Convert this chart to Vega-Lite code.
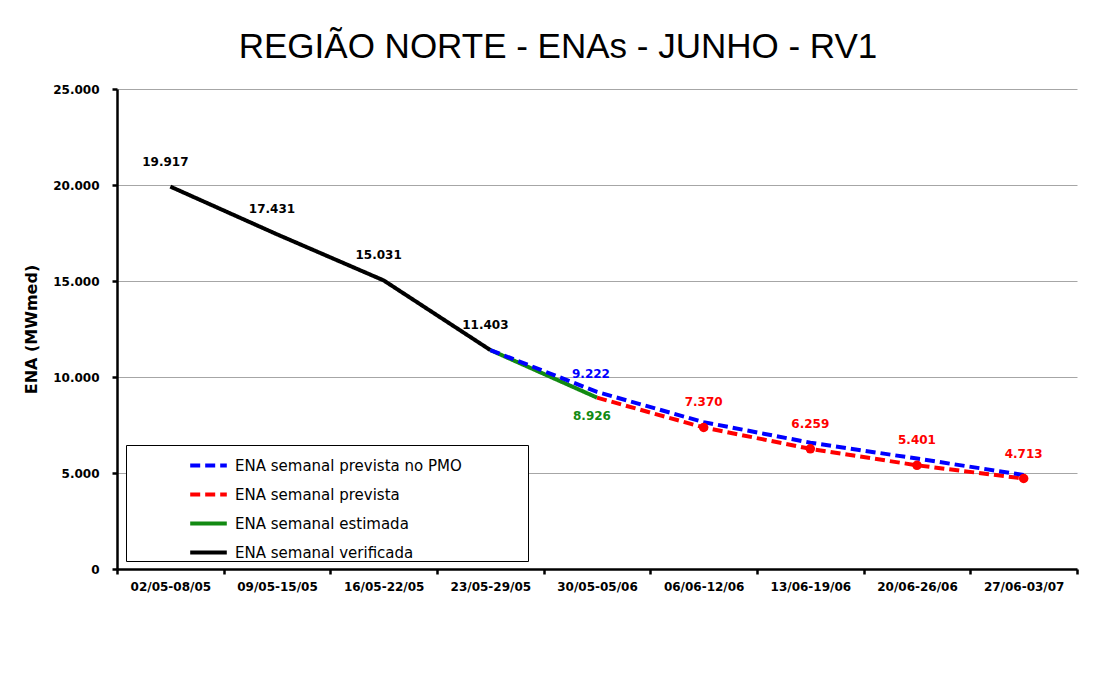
{
  "$schema": "https://vega.github.io/schema/vega-lite/v6.json",
  "width": 960,
  "height": 480,
  "autosize": {"type": "none"},
  "padding": {"left": 117, "top": 89, "right": 22, "bottom": 114},
  "background": "white",
  "title": {
    "text": "REGIÃO NORTE - ENAs - JUNHO - RV1",
    "font": "Liberation Sans, Arial, sans-serif",
    "fontSize": 35,
    "fontWeight": "normal",
    "color": "#000000",
    "anchor": "middle",
    "dx": -39,
    "offset": 18
  },
  "config": {
    "locale": {
      "number": {"decimal": ",", "thousands": ".", "grouping": [3], "currency": ["R$", ""]}
    },
    "view": {"stroke": null},
    "axis": {
      "labelFont": "DejaVu Sans, sans-serif",
      "labelFontWeight": "bold",
      "labelFontSize": 12,
      "labelColor": "#000000",
      "domainColor": "#000000",
      "domainWidth": 2.5,
      "tickColor": "#000000",
      "tickWidth": 2.5,
      "tickSize": 5,
      "titleFont": "DejaVu Sans, sans-serif",
      "titleFontWeight": "bold",
      "titleFontSize": 16,
      "titleColor": "#000000"
    }
  },
  "data": {
    "values": [
      {"semana": "02/05-08/05", "serie": "ENA semanal verificada", "valor": 19917},
      {"semana": "09/05-15/05", "serie": "ENA semanal verificada", "valor": 17431},
      {"semana": "16/05-22/05", "serie": "ENA semanal verificada", "valor": 15031},
      {"semana": "23/05-29/05", "serie": "ENA semanal verificada", "valor": 11403},
      {"semana": "23/05-29/05", "serie": "ENA semanal estimada", "valor": 11403},
      {"semana": "30/05-05/06", "serie": "ENA semanal estimada", "valor": 8926},
      {"semana": "30/05-05/06", "serie": "ENA semanal prevista", "valor": 8926},
      {"semana": "06/06-12/06", "serie": "ENA semanal prevista", "valor": 7370},
      {"semana": "13/06-19/06", "serie": "ENA semanal prevista", "valor": 6259},
      {"semana": "20/06-26/06", "serie": "ENA semanal prevista", "valor": 5401},
      {"semana": "27/06-03/07", "serie": "ENA semanal prevista", "valor": 4713},
      {"semana": "23/05-29/05", "serie": "ENA semanal prevista no PMO", "valor": 11403},
      {"semana": "30/05-05/06", "serie": "ENA semanal prevista no PMO", "valor": 9222},
      {"semana": "06/06-12/06", "serie": "ENA semanal prevista no PMO", "valor": 7650},
      {"semana": "13/06-19/06", "serie": "ENA semanal prevista no PMO", "valor": 6580},
      {"semana": "20/06-26/06", "serie": "ENA semanal prevista no PMO", "valor": 5750},
      {"semana": "27/06-03/07", "serie": "ENA semanal prevista no PMO", "valor": 4900}
    ]
  },
  "encoding": {
    "x": {
      "field": "semana",
      "type": "nominal",
      "bandPosition": 0.5,
      "sort": ["02/05-08/05", "09/05-15/05", "16/05-22/05", "23/05-29/05", "30/05-05/06", "06/06-12/06", "13/06-19/06", "20/06-26/06", "27/06-03/07"],
      "scale": {"type": "band", "paddingInner": 0, "paddingOuter": 0},
      "axis": {"title": null, "labelAngle": 0, "tickBand": "extent", "labelPadding": 7, "grid": false}
    },
    "y": {
      "field": "valor",
      "type": "quantitative",
      "scale": {"domain": [0, 25000], "nice": false},
      "axis": {
        "title": "ENA (MWmed)",
        "values": [0, 5000, 10000, 15000, 20000, 25000],
        "format": ",d",
        "grid": true,
        "gridColor": "#a6a6a6",
        "gridWidth": 1,
        "labelPadding": 13,
        "titlePadding": 13
      }
    }
  },
  "layer": [
    {
      "mark": {"type": "line", "strokeWidth": 4},
      "encoding": {
        "color": {
          "field": "serie",
          "type": "nominal",
          "scale": {
            "domain": ["ENA semanal prevista no PMO", "ENA semanal prevista", "ENA semanal estimada", "ENA semanal verificada"],
            "range": ["#0000ff", "#ff0000", "#128a12", "#000000"]
          },
          "legend": {
            "title": " ",
            "titleOrient": "right",
            "titlePadding": 66,
            "orient": "none",
            "legendX": 9,
            "legendY": 356,
            "direction": "vertical",
            "fillColor": "#ffffff",
            "strokeColor": "#000000",
            "padding": 0,
            "symbolType": "stroke",
            "symbolSize": 1340,
            "symbolStrokeWidth": 4,
            "symbolOffset": 62,
            "labelFont": "DejaVu Sans, sans-serif",
            "labelFontSize": 15,
            "labelColor": "#000000",
            "labelOffset": 6,
            "rowPadding": 0,
            "labelLimit": 400
          }
        },
        "strokeDash": {
          "field": "serie",
          "type": "nominal",
          "scale": {
            "domain": ["ENA semanal prevista no PMO", "ENA semanal prevista", "ENA semanal estimada", "ENA semanal verificada"],
            "range": [[10, 5], [10, 5], [1, 0], [1, 0]]
          },
          "legend": null
        },
        "order": {"field": "serie", "type": "nominal"}
      }
    },
    {
      "transform": [{"filter": "datum.serie == 'ENA semanal prevista' && datum.semana != '30/05-05/06'"}],
      "mark": {"type": "circle", "size": 90, "color": "#ff0000", "opacity": 1}
    },
    {
      "transform": [{"filter": "datum.serie == 'ENA semanal verificada'"}],
      "mark": {"type": "text", "font": "DejaVu Sans, sans-serif", "fontWeight": "bold", "fontSize": 12, "color": "#000000", "dy": -25, "dx": -5},
      "encoding": {"text": {"field": "valor", "type": "quantitative", "format": ",d"}}
    },
    {
      "transform": [{"filter": "datum.serie == 'ENA semanal prevista no PMO' && datum.semana == '30/05-05/06'"}],
      "mark": {"type": "text", "font": "DejaVu Sans, sans-serif", "fontWeight": "bold", "fontSize": 12, "color": "#0000ff", "dy": -18, "dx": -6},
      "encoding": {"text": {"field": "valor", "type": "quantitative", "format": ",d"}}
    },
    {
      "transform": [{"filter": "datum.serie == 'ENA semanal estimada' && datum.semana == '30/05-05/06'"}],
      "mark": {"type": "text", "font": "DejaVu Sans, sans-serif", "fontWeight": "bold", "fontSize": 12, "color": "#128a12", "dy": 18, "dx": -5},
      "encoding": {"text": {"field": "valor", "type": "quantitative", "format": ",d"}}
    },
    {
      "transform": [{"filter": "datum.serie == 'ENA semanal prevista' && datum.semana != '30/05-05/06'"}],
      "mark": {"type": "text", "font": "DejaVu Sans, sans-serif", "fontWeight": "bold", "fontSize": 12, "color": "#ff0000", "dy": -25},
      "encoding": {"text": {"field": "valor", "type": "quantitative", "format": ",d"}}
    }
  ]
}
